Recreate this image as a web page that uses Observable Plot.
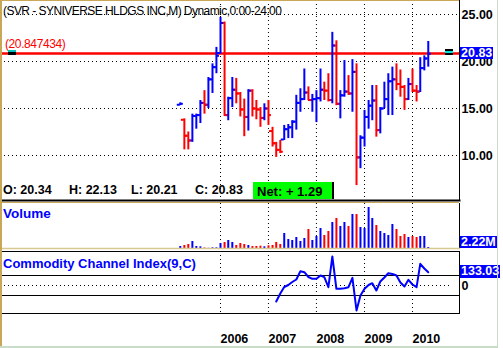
<!DOCTYPE html>
<html><head><meta charset="utf-8">
<script src="https://cdn.jsdelivr.net/npm/d3@7"></script>
<script src="https://cdn.jsdelivr.net/npm/@observablehq/plot@0.6"></script>
<style>
html,body{margin:0;padding:0;background:#fff;}
#chart{position:relative;width:503px;height:348px;overflow:hidden;background:#fff;font-family:"Liberation Sans",Arial,sans-serif;}
#chart svg{position:absolute;left:0;top:0;background:transparent;overflow:visible;}
.lbl{position:absolute;white-space:nowrap;line-height:1;}
.box{position:absolute;background:#0000ff;color:#fff;font-weight:bold;font-size:12.5px;line-height:12px;height:12px;padding:0 1px;white-space:nowrap;}
</style></head><body><div id="chart"></div>
<script>
// ---- data (monthly bars) ----
const months = ["2005-03","2005-04","2005-05","2005-06","2005-07","2005-08","2005-09","2005-10","2005-11","2005-12",
"2006-01","2006-02","2006-03","2006-04","2006-05","2006-06","2006-07","2006-08","2006-09","2006-10","2006-11","2006-12",
"2007-01","2007-02","2007-03","2007-04","2007-05","2007-06","2007-07","2007-08","2007-09","2007-10","2007-11","2007-12",
"2008-01","2008-02","2008-03","2008-04","2008-05","2008-06","2008-07","2008-08","2008-09","2008-10","2008-11","2008-12",
"2009-01","2009-02","2009-03","2009-04","2009-05","2009-06","2009-07","2009-08","2009-09","2009-10","2009-11","2009-12",
"2010-01","2010-02","2010-03","2010-04","2010-05"];
const opens = [15.4,13.8,12.1,11.6,14.2,14.3,15.6,15.4,18.1,19.4,
20.9,24.1,14.3,16.1,17.0,16.6,14.9,14.1,16.9,15.0,
14.9,14.0,15.0,12.6,11.3,10.6,11.7,12.8,13.0,13.6,
15.6,16.0,16.7,15.9,16.0,16.1,17.0,16.9,15.9,21.7,
15.5,16.4,16.8,16.6,18.9,9.8,11.9,14.1,15.3,15.85,
12.7,15.0,16.0,17.9,18.1,17.6,17.3,16.0,17.6,16.9,
16.8,19.3,20.34];
const highs = [15.6,13.9,12.5,14.4,14.4,15.85,16.9,18.3,19.75,21.5,
24.7,24.2,16.2,18.3,18.2,16.7,16.0,17.0,17.0,15.85,
15.1,15.5,15.85,13.0,11.4,11.6,13.2,13.3,13.7,16.4,
17.1,19.2,17.3,16.5,16.9,19.2,17.8,18.7,23.1,22.2,
16.9,20.1,18.5,20.2,19.75,12.1,14.8,15.85,17.45,17.45,
15.1,17.8,18.7,19.4,19.75,19.1,17.45,18.2,19.2,17.45,
20.4,20.6,22.13];
const lows = [15.3,10.6,10.6,11.4,12.8,13.4,14.4,15.0,16.6,18.7,
20.8,14.15,13.7,15.1,15.5,14.1,12.0,12.6,14.1,13.8,
13.0,13.7,13.2,10.9,9.8,10.2,11.6,11.8,11.8,12.7,
14.6,15.85,15.85,14.6,13.5,15.7,15.85,15.7,15.5,15.3,
13.9,16.2,16.4,14.6,6.8,8.6,10.9,12.8,13.7,11.95,
12.3,15.0,14.25,14.25,16.9,16.2,14.8,15.85,16.7,15.7,
16.7,19.0,19.4];
const closes = [15.5,12.1,11.6,14.2,14.3,15.6,15.4,18.1,19.4,20.6,
24.1,14.3,16.1,17.0,16.6,14.9,14.1,16.9,15.0,14.9,
14.0,15.0,14.3,11.3,10.6,10.4,12.8,13.0,13.6,15.6,
16.0,16.7,15.9,16.0,16.1,17.0,16.9,15.9,21.7,15.5,
16.4,16.8,16.6,18.9,9.8,11.9,14.1,15.3,15.85,12.7,
15.0,16.0,17.9,18.1,17.6,17.3,16.0,17.6,16.9,16.8,
19.3,20.3,20.83];
const volumes = [4.4,6.6,8.8,15.4,4.4,3.7,1.1,0.4,1.5,1.5,
11,13.2,17.6,13.2,6.6,11,8.8,6.6,4.4,4.4,
5.1,3.7,5.9,6.6,13.2,8.8,33,19.8,17.6,24.2,
15.4,22,41.8,17.6,26.4,44,28.6,37.4,57.2,66,
48.4,57.2,48.4,74.8,74.8,46.2,44,90.2,66,50.6,
37.4,33,28.6,52.8,41.8,26.4,30.8,24.2,26.4,24.2,
26.4,26.4,2.22];
const cci = [null,null,null,null,null,null,null,null,null,null,
null,null,null,null,null,null,null,null,null,null,
null,null,null,null,-160,-80,-15,5,35,60,
143,133,85,67,67,100,83,-17,290,-33,
-33,-28,-17,77,-250,-100,-33,5,23,-50,
40,80,123,115,100,30,-10,57,10,-17,
217,170,133.03];
const yearTicks = ["2006-01-01","2007-01-01","2008-01-01","2009-01-01","2010-01-01"];
const priceTicks = [10, 15, 20, 25];
const cciBands = [-100, 100];
const cciZero = [0];
const hLineValue = 20.847434;
const quoteLabels = ["O: 20.34", "H: 22.13", "L: 20.21", "C: 20.83"];
const netLabel = "Net: + 1.29";
const titleText = "(SVR - SYNIVERSE HLDGS INC,M) Dynamic,0:00-24:00";
const volumeTitle = "Volume";
const cciTitle = "Commodity Channel Index(9,C)";
const volumeLabel = "2.22M";

// ---- build ----
const bars = months.map((m, i) => ({date: new Date(m + "-01"), open: opens[i], high: highs[i], low: lows[i], close: closes[i], volume: volumes[i], cci: cci[i]}));
const years = yearTicks.map(d => new Date(d));
const dir = d => d.close >= d.open ? "up" : "down";
const W = 503, H = 348;
const xOpt = {type: "utc", domain: [new Date("2006-01-01"), new Date("2010-01-01")], range: [220, 412], axis: null};
const colorOpt = {domain: ["up", "down"], range: ["#0000ff", "#ff0000"]};
const svgStyle = "font-family:'Liberation Sans',Arial,sans-serif;font-size:12.5px;font-weight:bold;background:transparent;overflow:visible;color:#000;";
const dotted = {stroke: "#000", strokeDasharray: "1,3", strokeWidth: 1};

const chart = document.getElementById("chart");

const price = Plot.plot({
  width: W, height: H, marginLeft: 0, marginRight: 44, marginTop: 0, marginBottom: H - 200,
  x: xOpt,
  y: {domain: [10, 25], range: [155, 14], axis: null},
  color: colorOpt,
  style: svgStyle,
  marks: [
    Plot.ruleY(priceTicks, dotted),
    Plot.ruleX(years, dotted),
    Plot.ruleY([hLineValue], {stroke: "#ff0000", strokeWidth: 2.5}),
    Plot.ruleX(bars, {x: "date", y1: "low", y2: "high", stroke: dir, strokeWidth: 2}),
    Plot.ruleY(bars, {x1: "date", x2: "date", y: "open", stroke: dir, strokeWidth: 2, insetLeft: -3}),
    Plot.ruleY(bars, {x1: "date", x2: "date", y: "close", stroke: dir, strokeWidth: 2, insetRight: -3}),
    Plot.axisY(priceTicks, {anchor: "right", tickSize: 0, tickPadding: 2, tickFormat: d3.format(".2f"), label: null}),
    Plot.frame({anchor: "right", stroke: "#000"}),
    Plot.frame({anchor: "bottom", stroke: "#000", strokeWidth: 2})
  ]
});
chart.appendChild(price);

const vol = Plot.plot({
  width: W, height: H, marginLeft: 0, marginRight: 44, marginTop: 203, marginBottom: H - 248,
  x: xOpt,
  y: {domain: [0, 100], range: [248, 202.5], axis: null},
  color: colorOpt,
  style: svgStyle,
  marks: [
    Plot.ruleX(years, dotted),
    Plot.ruleX(bars, {x: "date", y1: 0, y2: "volume", stroke: dir, strokeWidth: 2}),
    Plot.frame({anchor: "right", stroke: "#000"}),
    Plot.frame({anchor: "bottom", stroke: "#d8c890", strokeWidth: 1.5})
  ]
});
chart.appendChild(vol);

const cc = Plot.plot({
  width: W, height: H, marginLeft: 0, marginRight: 44, marginTop: 251, marginBottom: H - 313,
  x: xOpt,
  y: {domain: [-100, 100], range: [295, 275], axis: null},
  style: svgStyle,
  marks: [
    Plot.ruleY(cciBands, {stroke: "#000", strokeWidth: 1}),
    Plot.ruleY(cciZero, {...dotted, insetRight: 9}),
    Plot.ruleX(years, dotted),
    Plot.line(bars.filter(d => d.cci != null), {x: "date", y: "cci", stroke: "#0000ff", strokeWidth: 2}),
    Plot.axisY(cciZero, {anchor: "right", tickSize: 0, tickPadding: 2, tickFormat: d => String(d), label: null}),
    Plot.axisX(years, {anchor: "bottom", tickSize: 0, tickPadding: 21, textAnchor: "start", tickFormat: d3.utcFormat("%Y"), label: null}),
    Plot.frame({anchor: "right", stroke: "#000"}),
    Plot.frame({anchor: "top", stroke: "#000"}),
    Plot.frame({anchor: "bottom", stroke: "#000"})
  ]
});
chart.appendChild(cc);

// ---- text overlays ----
function addDiv(text, css, cls) {
  const d = document.createElement("div");
  d.className = cls || "lbl";
  d.textContent = text;
  d.style.cssText += css;
  chart.appendChild(d);
  return d;
}
const py = price.scale("y"), vy = vol.scale("y"), cy = cc.scale("y");
const last = bars[bars.length - 1];

addDiv(titleText, "left:3px;top:5px;font-size:12px;letter-spacing:-0.55px;color:#000;");
addDiv("(" + hLineValue + ")", "left:5px;top:" + (py.apply(hLineValue) - 15) + "px;font-size:12px;letter-spacing:-0.4px;color:#ff0000;");
const qx = [3, 69, 131, 195];
quoteLabels.forEach((t, i) => addDiv(t, "left:" + qx[i] + "px;top:184px;font-size:12.5px;font-weight:bold;color:#000;"));
addDiv(netLabel, "left:253px;top:182px;height:17px;padding:3px 0 0 4px;box-sizing:border-box;width:81px;background:#00ff00;border-right:2px solid #000;font-size:13px;font-weight:bold;color:#000;");
addDiv(volumeTitle, "left:3px;top:207px;font-size:13.5px;font-weight:bold;color:#0000ff;");
addDiv(cciTitle, "left:3px;top:257px;font-size:13px;font-weight:bold;color:#0000ff;");

// value boxes on the right
addDiv(d3.format(".2f")(last.close), "left:460px;top:" + (py.apply(last.close) - 6.5) + "px;", "box");
addDiv(volumeLabel, "left:460px;top:" + (vy.apply(0) - 12) + "px;", "box");
addDiv(d3.format(".2f")(last.cci), "left:460px;top:" + (cy.apply(last.cci) - 7) + "px;height:13px;line-height:13px;", "box");

// drawing-tool handles on the horizontal line
const hy = py.apply(hLineValue);
addDiv("", "left:8px;top:" + (hy - 3) + "px;width:8px;height:2px;background:#00c0c0;");
addDiv("", "left:8px;top:" + (hy - 1) + "px;width:8px;height:3px;background:#000;");
addDiv("", "left:445px;top:" + (hy - 4) + "px;width:8px;height:2px;background:#000;");
addDiv("", "left:445px;top:" + (hy - 2) + "px;width:8px;height:2px;background:#00e0e0;");
addDiv("", "left:445px;top:" + hy + "px;width:8px;height:2px;background:#000;");

// outer window borders
addDiv("", "left:0;top:0;width:2px;height:348px;background:#c8a858;");
addDiv("", "left:0;top:0;width:459px;height:1px;background:#c8a858;");
addDiv("", "left:0;top:202px;width:459px;height:1px;background:#c8a858;");
addDiv("", "left:0;top:346px;width:498px;height:2px;background:#c8dcc8;");
addDiv("", "left:497px;top:0;width:1px;height:348px;background:#c8dcc8;");
</script></body></html>
